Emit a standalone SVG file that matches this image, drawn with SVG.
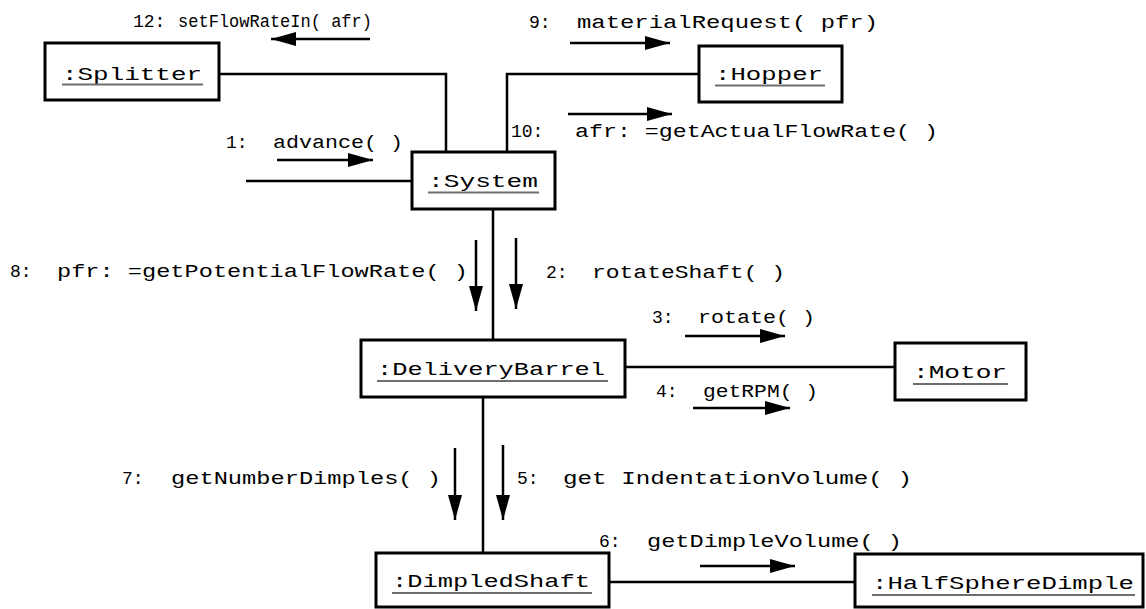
<svg xmlns="http://www.w3.org/2000/svg" width="1146" height="609" viewBox="0 0 1146 609">
<style>
.box{fill:#fff;stroke:#000;stroke-width:3}
.con{fill:none;stroke:#000;stroke-width:2.5}
.msg{fill:none;stroke:#000;stroke-width:2.5;marker-end:url(#ah)}
.ul{stroke:#6e6e6e;stroke-width:1.8}
text{font-family:"Liberation Mono","DejaVu Sans Mono",monospace;font-size:18px;fill:#000}
</style>
<defs>
<marker id="ah" markerUnits="userSpaceOnUse" markerWidth="26" markerHeight="14" refX="25" refY="7" orient="auto">
<path d="M0,0 L25,7 L0,14 Z" fill="#000"/>
</marker>
</defs>
<rect width="1146" height="609" fill="#fff"/>
<g id="connectors">
<polyline class="con" points="219,74 446,74 446,152"/>
<polyline class="con" points="699,74 507,74 507,152"/>
<line class="con" x1="246" y1="181" x2="412" y2="181"/>
<line class="con" x1="493" y1="209" x2="493" y2="340"/>
<line class="con" x1="625" y1="367" x2="895" y2="367"/>
<line class="con" x1="483" y1="397" x2="483" y2="553"/>
<line class="con" x1="609" y1="582" x2="855" y2="582"/>
<line class="msg" x1="370" y1="39" x2="271" y2="39"/>
<line class="msg" x1="277" y1="160" x2="373" y2="160"/>
<line class="msg" x1="570" y1="43" x2="670" y2="43"/>
<line class="msg" x1="568" y1="114" x2="672" y2="114"/>
<line class="msg" x1="476" y1="240" x2="476" y2="311"/>
<line class="msg" x1="516" y1="238" x2="516" y2="309"/>
<line class="msg" x1="685" y1="336" x2="785" y2="336"/>
<line class="msg" x1="693" y1="408" x2="790" y2="408"/>
<line class="msg" x1="455" y1="448" x2="455" y2="520"/>
<line class="msg" x1="503" y1="445" x2="503" y2="520"/>
<line class="msg" x1="700" y1="566" x2="795" y2="566"/>
<text x="133" y="27">12:</text>
<text x="178" y="27" textLength="194" lengthAdjust="spacingAndGlyphs">setFlowRateIn( afr)</text>
<text x="226" y="148">1:</text>
<text x="273" y="148" textLength="130" lengthAdjust="spacingAndGlyphs">advance( )</text>
<text x="529" y="28">9:</text>
<text x="577" y="28" textLength="301" lengthAdjust="spacingAndGlyphs">materialRequest( pfr)</text>
<text x="511" y="137">10:</text>
<text x="575" y="137" textLength="363" lengthAdjust="spacingAndGlyphs">afr: =getActualFlowRate( )</text>
<text x="10" y="277">8:</text>
<text x="57" y="277" textLength="411" lengthAdjust="spacingAndGlyphs">pfr: =getPotentialFlowRate( )</text>
<text x="546" y="278">2:</text>
<text x="592" y="278" textLength="193" lengthAdjust="spacingAndGlyphs">rotateShaft( )</text>
<text x="652" y="323">3:</text>
<text x="698" y="323" textLength="117" lengthAdjust="spacingAndGlyphs">rotate( )</text>
<text x="656" y="397">4:</text>
<text x="703" y="397" textLength="115" lengthAdjust="spacingAndGlyphs">getRPM( )</text>
<text x="122" y="484">7:</text>
<text x="171" y="484" textLength="270" lengthAdjust="spacingAndGlyphs">getNumberDimples( )</text>
<text x="517" y="484">5:</text>
<text x="563" y="484" textLength="349" lengthAdjust="spacingAndGlyphs">get IndentationVolume( )</text>
<text x="599" y="547">6:</text>
<text x="647" y="547" textLength="255" lengthAdjust="spacingAndGlyphs">getDimpleVolume( )</text>
</g>
<g id="splitter">
<rect class="box" x="45" y="43" width="174" height="57"/>
<text x="62" y="80" textLength="140" lengthAdjust="spacingAndGlyphs">:Splitter</text>
<line class="ul" x1="62" y1="84.5" x2="203" y2="84.5"/>
</g>
<g id="hopper">
<rect class="box" x="699" y="46" width="143" height="56"/>
<text x="715" y="80" textLength="108" lengthAdjust="spacingAndGlyphs">:Hopper</text>
<line class="ul" x1="715" y1="85.5" x2="825" y2="85.5"/>
</g>
<g id="system">
<rect class="box" x="412" y="152" width="143" height="57"/>
<text x="428" y="187" textLength="110" lengthAdjust="spacingAndGlyphs">:System</text>
<line class="ul" x1="428" y1="192.5" x2="539" y2="192.5"/>
</g>
<g id="deliveryBarrel">
<rect class="box" x="361" y="340" width="264" height="57"/>
<text x="377" y="375" textLength="228" lengthAdjust="spacingAndGlyphs">:DeliveryBarrel</text>
<line class="ul" x1="377" y1="381" x2="608" y2="381"/>
</g>
<g id="motor">
<rect class="box" x="895" y="343" width="131" height="57"/>
<text x="913" y="378" textLength="94" lengthAdjust="spacingAndGlyphs">:Motor</text>
<line class="ul" x1="913" y1="384" x2="1008" y2="384"/>
</g>
<g id="dimpledShaft">
<rect class="box" x="376" y="553" width="233" height="54"/>
<text x="392" y="587" textLength="198" lengthAdjust="spacingAndGlyphs">:DimpledShaft</text>
<line class="ul" x1="392" y1="593" x2="592" y2="593"/>
</g>
<g id="halfSphereDimple">
<rect class="box" x="855" y="554" width="288" height="53"/>
<text x="872" y="589" textLength="262" lengthAdjust="spacingAndGlyphs">:HalfSphereDimple</text>
<line class="ul" x1="872" y1="595" x2="1135" y2="595"/>
</g>
</svg>
